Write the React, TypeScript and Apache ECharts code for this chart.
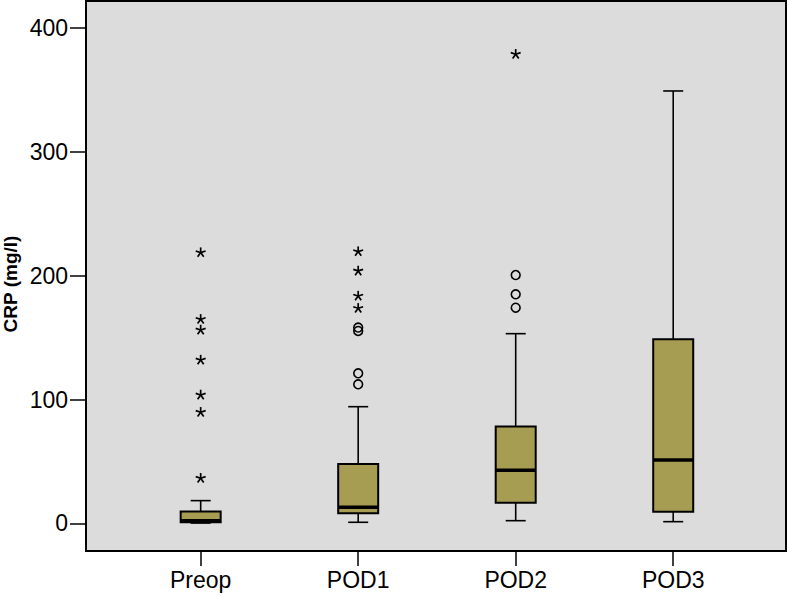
import React, { useEffect, useRef } from "react";
import * as echarts from "echarts";

const categories = ["Preop", "POD1", "POD2", "POD3"];
const boxMin = [0.2, 0.8, 2.1, 1.3];
const boxQ1 = [0.8, 8.1, 16.6, 9.4];
const boxMedian = [2.0, 12.9, 42.8, 51.2];
const boxQ3 = [9.5, 47.9, 78.1, 148.7];
const boxMax = [18.3, 94.2, 153.2, 349.3];
const circleOutliers: number[][] = [[], [158.1, 155.4, 121.2, 112.3], [200.6, 185.0, 174.2], []];
const starOutliers: number[][] = [
  [218.7, 164.8, 156.2, 131.9, 103.7, 89.7, 36.4],
  [219.5, 203.9, 183.6, 173.7],
  [379.0],
  [],
];
const yTicks = [0, 100, 200, 300, 400];
const yAxisTitle = "CRP (mg/l)";

const FONT = "'Liberation Sans', Arial, sans-serif";
const BOX_FILL = "#A69C52";

export default function App() {
  const ref = useRef<HTMLDivElement>(null);
  useEffect(() => {
    if (!ref.current) return;
    const chart = echarts.init(ref.current, null, { renderer: "svg" });

    const boxData = categories.map((_, i) => [i, boxMin[i], boxQ1[i], boxMedian[i], boxQ3[i], boxMax[i]]);
    const circleData: number[][] = [];
    circleOutliers.forEach((arr, i) => arr.forEach((v) => circleData.push([i, v])));
    const starData: number[][] = [];
    starOutliers.forEach((arr, i) => arr.forEach((v) => starData.push([i, v])));

    const option: any = {
      animation: false,
      grid: {
        left: 86,
        right: 2,
        top: 1,
        bottom: 46,
        show: true,
        backgroundColor: "#DCDCDC",
        borderColor: "#000",
        borderWidth: 2,
        outerBoundsMode: "none",
        containLabel: false,
      },
      xAxis: {
        type: "value",
        position: "bottom",
        min: -0.728,
        max: 3.716,
        splitLine: { show: false },
        axisLine: { show: false, onZero: false },
        axisTick: {
          show: true,
          inside: false,
          customValues: [0, 1, 2, 3],
          length: 15,
          lineStyle: { color: "#000", width: 1.5 },
        },
        axisLabel: {
          customValues: [0, 1, 2, 3],
          formatter: (v: number) => categories[Math.round(v)],
          margin: 17,
          color: "#000",
          fontSize: 23,
          fontFamily: FONT,
        },
      },
      yAxis: {
        type: "value",
        position: "left",
        min: -22.4,
        max: 422,
        splitLine: { show: false },
        axisLine: { show: false, onZero: false },
        axisTick: {
          show: true,
          inside: false,
          customValues: yTicks,
          length: 16,
          lineStyle: { color: "#000", width: 1.5 },
        },
        axisLabel: {
          customValues: yTicks,
          margin: 18,
          color: "#000",
          fontSize: 23,
          fontFamily: FONT,
        },
      },
      graphic: [
        {
          type: "text",
          x: 10,
          y: 284,
          rotation: Math.PI / 2,
          style: {
            text: yAxisTitle,
            fontSize: 19,
            fontWeight: "bold",
            fontFamily: FONT,
            fill: "#000",
            align: "center",
            verticalAlign: "middle",
          },
        },
      ],
      series: [
        {
          type: "custom",
          data: boxData,
          encode: { x: 0, y: [1, 2, 3, 4, 5] },
          renderItem: (params: any, api: any) => {
            const x = api.value(0);
            const pMin = api.coord([x, api.value(1)]);
            const pQ1 = api.coord([x, api.value(2)]);
            const pMed = api.coord([x, api.value(3)]);
            const pQ3 = api.coord([x, api.value(4)]);
            const pMax = api.coord([x, api.value(5)]);
            const cx = pMed[0];
            const hw = 20;
            const cap = 10;
            const ls = { stroke: "#000", lineWidth: 1.6 };
            return {
              type: "group",
              children: [
                { type: "line", shape: { x1: cx, y1: pQ3[1], x2: cx, y2: pMax[1] }, style: ls },
                { type: "line", shape: { x1: cx - cap, y1: pMax[1], x2: cx + cap, y2: pMax[1] }, style: ls },
                { type: "line", shape: { x1: cx, y1: pQ1[1], x2: cx, y2: pMin[1] }, style: ls },
                { type: "line", shape: { x1: cx - cap, y1: pMin[1], x2: cx + cap, y2: pMin[1] }, style: ls },
                {
                  type: "rect",
                  shape: { x: cx - hw, y: pQ3[1], width: hw * 2, height: pQ1[1] - pQ3[1] },
                  style: { fill: BOX_FILL, stroke: "#000", lineWidth: 2 },
                },
                {
                  type: "line",
                  shape: { x1: cx - hw, y1: pMed[1], x2: cx + hw, y2: pMed[1] },
                  style: { stroke: "#000", lineWidth: 3.5 },
                },
              ],
            };
          },
        },
        {
          type: "custom",
          data: circleData,
          encode: { x: 0, y: 1 },
          renderItem: (params: any, api: any) => {
            const p = api.coord([api.value(0), api.value(1)]);
            return {
              type: "circle",
              shape: { cx: p[0], cy: p[1], r: 4.4 },
              style: { fill: "none", stroke: "#000", lineWidth: 1.6 },
            };
          },
        },
        {
          type: "custom",
          data: starData,
          encode: { x: 0, y: 1 },
          renderItem: (params: any, api: any) => {
            const p = api.coord([api.value(0), api.value(1)]);
            const len = 5.2;
            const children = [0, 1, 2, 3, 4].map((k) => {
              const a = (-90 + k * 72) * (Math.PI / 180);
              return {
                type: "line",
                shape: { x1: p[0], y1: p[1], x2: p[0] + len * Math.cos(a), y2: p[1] + len * Math.sin(a) },
                style: { stroke: "#000", lineWidth: 1.7 },
              };
            });
            return { type: "group", children };
          },
        },
      ],
    };
    chart.setOption(option);
    return () => chart.dispose();
  }, []);
  return (
    <div
      ref={ref}
      style={{ position: "fixed", left: 0, top: 0, width: 788, height: 597, background: "#fff" }}
    />
  );
}
